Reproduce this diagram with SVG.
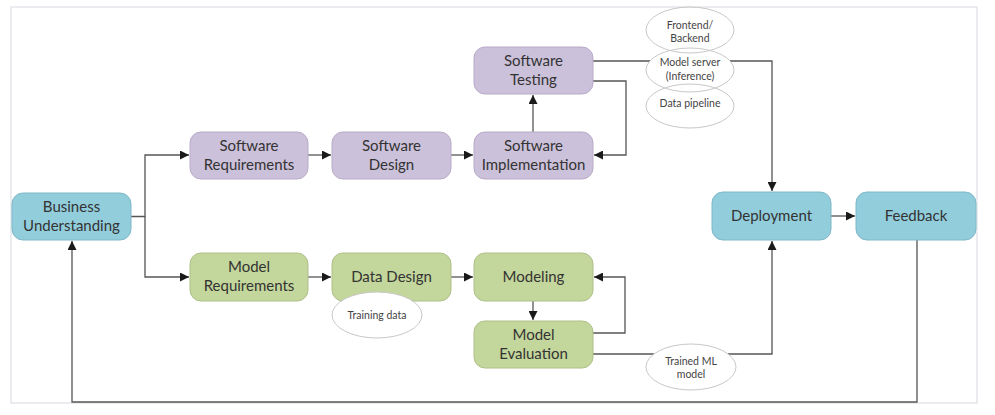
<svg xmlns="http://www.w3.org/2000/svg" width="995" height="415" viewBox="0 0 995 415">
<defs>
<marker id="arr" viewBox="0 0 10 10" refX="10" refY="5" markerWidth="9" markerHeight="9" markerUnits="userSpaceOnUse" orient="auto">
<path d="M0,0 L10,5 L0,10 z" fill="#1a1a1a"/>
</marker>
<style>
.frame{fill:#ffffff;stroke:#e4e6ea;stroke-width:1.5}
.sw{fill:#ccc1da;stroke:#b8aac8;stroke-width:1}
.ml{fill:#c3d69b;stroke:#aebf88;stroke-width:1}
.bz{fill:#92cddc;stroke:#7fb8c7;stroke-width:1}
.lbl{font-family:Lato,"Liberation Sans",sans-serif;font-size:15px;fill:#333333;text-anchor:middle}
.ell{fill:#ffffff;stroke:#c8c8c8;stroke-width:1}
.ring{fill:none;stroke:#c8c8c8;stroke-width:1}
.sm{font-family:Lato,"Liberation Sans",sans-serif;font-size:10.5px;fill:#444444;text-anchor:middle}
.conn{fill:none;stroke:#555555;stroke-width:1.3}
</style>
</defs>
<rect width="995" height="415" fill="#ffffff"/>
<rect class="frame" x="11" y="7" width="966" height="396"/>
<g id="connectors">
<path class="conn" d="M131,216.5 H145 V155 H189" marker-end="url(#arr)"/>
<path class="conn" d="M145,216.5 V277 H189" marker-end="url(#arr)"/>
<path class="conn" d="M308,155 H331" marker-end="url(#arr)"/>
<path class="conn" d="M451,155 H473" marker-end="url(#arr)"/>
<path class="conn" d="M533,132 V95" marker-end="url(#arr)"/>
<path class="conn" d="M593,81 H626 V155 H594" marker-end="url(#arr)"/>
<path class="conn" d="M593,61 H650 M730,61 H772 V191" marker-end="url(#arr)"/>
<path class="conn" d="M308,277 H331" marker-end="url(#arr)"/>
<path class="conn" d="M451,277 H473" marker-end="url(#arr)"/>
<path class="conn" d="M533,301 V320" marker-end="url(#arr)"/>
<path class="conn" d="M593,333 H625 V277 H594" marker-end="url(#arr)"/>
<path class="conn" d="M593,354 H654 M728,354 H772 V241" marker-end="url(#arr)"/>
<path class="conn" d="M831,216 H855" marker-end="url(#arr)"/>
<path class="conn" d="M917,240 V402 H72 V241" marker-end="url(#arr)"/>
</g>
<g id="business-understanding">
<rect class="bz" x="12" y="193" width="119" height="47" rx="11"/>
<text class="lbl" x="71.5" y="212">Business</text>
<text class="lbl" x="71.5" y="231">Understanding</text>
</g>
<g id="software-requirements">
<rect class="sw" x="190" y="132" width="118" height="47" rx="11"/>
<text class="lbl" x="249" y="151">Software</text>
<text class="lbl" x="249" y="170">Requirements</text>
</g>
<g id="software-design">
<rect class="sw" x="332" y="132" width="119" height="47" rx="11"/>
<text class="lbl" x="391.5" y="151">Software</text>
<text class="lbl" x="391.5" y="170">Design</text>
</g>
<g id="software-implementation">
<rect class="sw" x="474" y="132" width="119" height="47" rx="11"/>
<text class="lbl" x="533.5" y="151">Software</text>
<text class="lbl" x="533.5" y="170">Implementation</text>
</g>
<g id="software-testing">
<rect class="sw" x="474" y="47" width="119" height="47" rx="11"/>
<text class="lbl" x="533.5" y="66">Software</text>
<text class="lbl" x="533.5" y="85">Testing</text>
</g>
<g id="model-requirements">
<rect class="ml" x="190" y="253" width="118" height="48" rx="11"/>
<text class="lbl" x="249" y="272">Model</text>
<text class="lbl" x="249" y="291">Requirements</text>
</g>
<g id="data-design">
<rect class="ml" x="332" y="253" width="119" height="48" rx="11"/>
<text class="lbl" x="391.5" y="282">Data Design</text>
</g>
<g id="training-data">
<ellipse class="ell" cx="377" cy="315" rx="45" ry="23"/>
<text class="sm" x="377" y="319">Training data</text>
</g>
<g id="modeling">
<rect class="ml" x="474" y="253" width="119" height="48" rx="11"/>
<text class="lbl" x="533.5" y="282">Modeling</text>
</g>
<g id="model-evaluation">
<rect class="ml" x="474" y="321" width="119" height="47" rx="11"/>
<text class="lbl" x="533.5" y="340">Model</text>
<text class="lbl" x="533.5" y="359">Evaluation</text>
</g>
<g id="frontend-backend">
<ellipse class="ring" cx="690" cy="30" rx="44" ry="23"/>
<text class="sm" x="690" y="29">Frontend/</text>
<text class="sm" x="690" y="42">Backend</text>
</g>
<g id="model-server">
<ellipse class="ring" cx="690" cy="70" rx="44" ry="22"/>
<text class="sm" x="690" y="66">Model server</text>
<text class="sm" x="690" y="80">(Inference)</text>
</g>
<g id="data-pipeline">
<ellipse class="ring" cx="690" cy="106" rx="44" ry="22"/>
<text class="sm" x="690" y="107">Data pipeline</text>
</g>
<g id="trained-ml-model">
<ellipse class="ell" cx="691" cy="367" rx="45" ry="23"/>
<text class="sm" x="691" y="365">Trained ML</text>
<text class="sm" x="691" y="378">model</text>
</g>
<g id="deployment">
<rect class="bz" x="712" y="192" width="119" height="48" rx="11"/>
<text class="lbl" x="771.5" y="221">Deployment</text>
</g>
<g id="feedback">
<rect class="bz" x="856" y="192" width="120" height="48" rx="11"/>
<text class="lbl" x="916" y="221">Feedback</text>
</g>
</svg>
